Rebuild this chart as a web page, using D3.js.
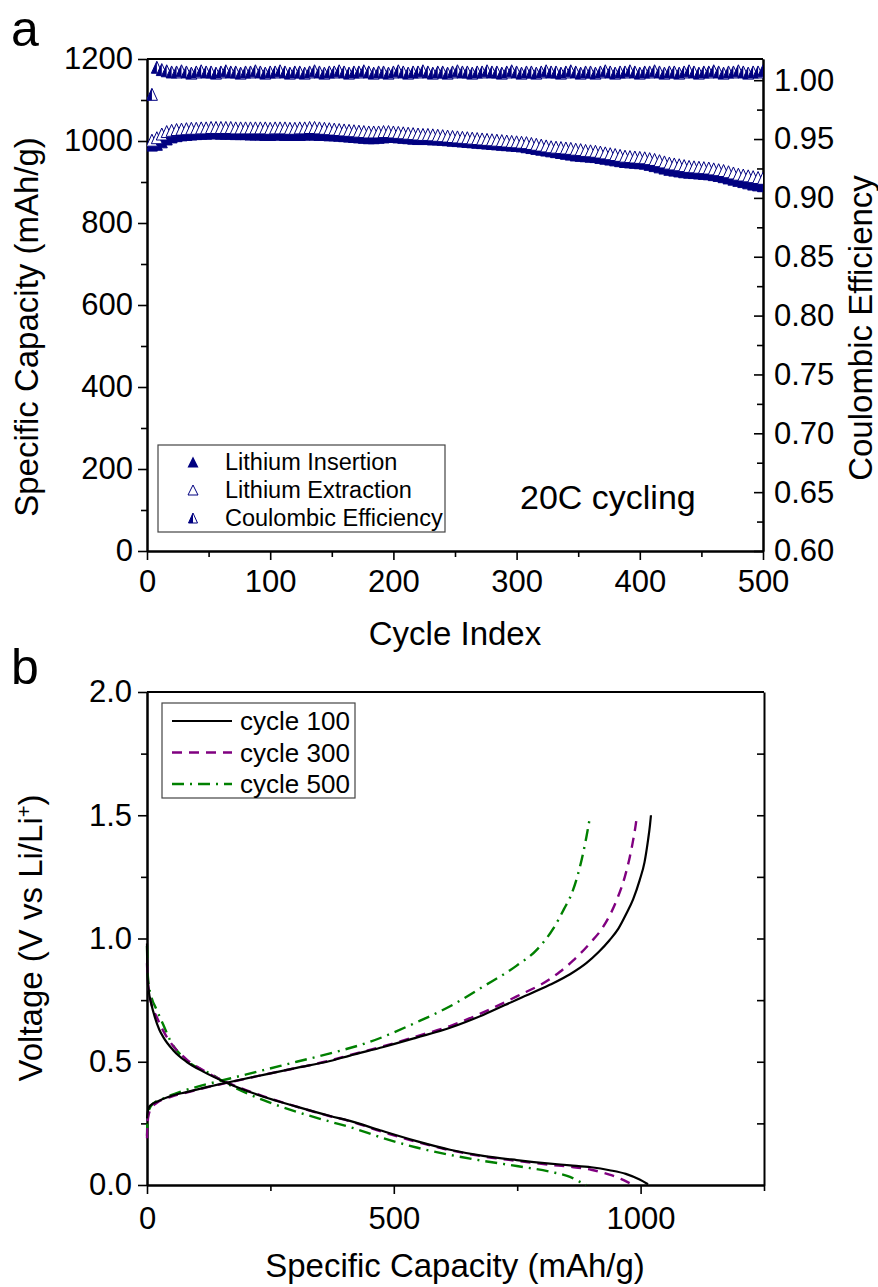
<!DOCTYPE html>
<html>
<head>
<meta charset="utf-8">
<script src="https://cdn.jsdelivr.net/npm/d3@7"></script>
<style>
  body { margin: 0; background: #fff; }
  svg { display: block; }
</style>
</head>
<body>
<svg id="fig" width="878" height="1287"></svg>
<script>
// ---------- Panel a: cycling at 20C ----------
const cycles = d3.range(4, 501, 4);            // cycle index of each plotted point
const insertion = [                             // mAh/g
  990, 992, 998, 1005, 1010, 1013, 1015, 1016, 1017, 1018,
  1019, 1019, 1020, 1020, 1019, 1019, 1019, 1018, 1018, 1018,
  1017, 1017, 1017, 1016, 1016, 1017, 1017, 1016, 1016, 1016,
  1016, 1017, 1017, 1017, 1016, 1016, 1015, 1015, 1014, 1013,
  1012, 1011, 1010, 1009, 1008, 1008, 1009, 1010, 1011, 1011,
  1010, 1009, 1008, 1007, 1006, 1006, 1006, 1005, 1005, 1004,
  1003, 1002, 1001, 1000, 999, 998, 997, 996, 995, 994,
  993, 992, 991, 990, 989, 988, 986, 984, 982, 980,
  978, 976, 974, 972, 970, 968, 966, 965, 964, 963,
  962, 960, 958, 956, 954, 952, 950, 949, 948, 947,
  946, 943, 940, 937, 934, 931, 929, 927, 925, 924,
  923, 922, 921, 920, 918, 916, 913, 910, 907, 904,
  901, 898, 895, 893, 891
];
const extraction = [                            // mAh/g
  1002, 1008, 1017, 1023, 1026, 1028, 1029, 1030, 1031, 1031,
  1032, 1032, 1033, 1033, 1033, 1033, 1033, 1032, 1032, 1032,
  1032, 1032, 1032, 1032, 1031, 1032, 1032, 1032, 1031, 1031,
  1032, 1032, 1033, 1033, 1032, 1031, 1030, 1029, 1028, 1027,
  1026, 1025, 1024, 1023, 1022, 1022, 1022, 1023, 1023, 1022,
  1021, 1020, 1019, 1018, 1017, 1016, 1016, 1015, 1014, 1013,
  1012, 1011, 1010, 1009, 1008, 1007, 1006, 1005, 1004, 1003,
  1002, 1001, 1000, 999, 998, 997, 996, 994, 992, 990,
  988, 986, 985, 984, 983, 982, 980, 979, 977, 976,
  975, 973, 971, 969, 967, 965, 963, 962, 961, 960,
  959, 957, 955, 952, 949, 946, 944, 942, 940, 938,
  937, 936, 935, 934, 932, 930, 928, 925, 922, 919,
  917, 915, 913, 911, 909
];
const efficiency = [
  0.988, 1.011, 1.009, 1.008, 1.007, 1.007, 1.008, 1.007, 1.006, 1.007,
  1.008, 1.007, 1.007, 1.006, 1.007, 1.008, 1.007, 1.007, 1.006, 1.007,
  1.007, 1.008, 1.007, 1.006, 1.007, 1.007, 1.008, 1.007, 1.006, 1.007,
  1.007, 1.006, 1.007, 1.008, 1.007, 1.006, 1.007, 1.007, 1.008, 1.007,
  1.006, 1.007, 1.007, 1.008, 1.007, 1.006, 1.007, 1.007, 1.006, 1.007,
  1.008, 1.007, 1.006, 1.007, 1.007, 1.008, 1.007, 1.006, 1.007, 1.007,
  1.006, 1.007, 1.008, 1.007, 1.007, 1.006, 1.007, 1.007, 1.008, 1.007,
  1.007, 1.006, 1.007, 1.008, 1.007, 1.006, 1.007, 1.007, 1.006, 1.007,
  1.008, 1.007, 1.007, 1.006, 1.007, 1.008, 1.007, 1.006, 1.007, 1.007,
  1.006, 1.007, 1.008, 1.007, 1.006, 1.007, 1.007, 1.008, 1.007, 1.006,
  1.007, 1.007, 1.008, 1.007, 1.006, 1.007, 1.007, 1.006, 1.007, 1.008,
  1.007, 1.006, 1.007, 1.007, 1.008, 1.007, 1.006, 1.007, 1.007, 1.008,
  1.007, 1.006, 1.007, 1.007, 1.008
];
const cycleTicks = [0, 100, 200, 300, 400, 500];
const capacityTicks = [0, 200, 400, 600, 800, 1000, 1200];
const efficiencyTicks = [0.60, 0.65, 0.70, 0.75, 0.80, 0.85, 0.90, 0.95, 1.00];
const legendA = ["Lithium Insertion", "Lithium Extraction", "Coulombic Efficiency"];

// ---------- Panel b: voltage profiles, [capacity mAh/g, voltage V] ----------
const c100Discharge = [[0,0.98],[0.5,0.9],[1.5,0.83],[4,0.78],[8,0.74],[16,0.68],[25,0.63],[33,0.6],[53,0.547],[80,0.5],[114,0.46],[161,0.415],[236,0.358],[303,0.318],[371,0.28],[411,0.26],[472,0.222],[546,0.178],[614,0.143],[681,0.118],[749,0.101],[816,0.087],[857,0.08],[900,0.072],[937,0.06],[970,0.045],[998,0.022],[1015,0.003]];
const c100Charge = [[0,0.27],[1,0.29],[3,0.31],[8,0.325],[20,0.338],[47,0.36],[80,0.377],[121,0.397],[161,0.415],[236,0.447],[303,0.475],[371,0.503],[411,0.525],[479,0.56],[546,0.598],[614,0.638],[681,0.69],[749,0.752],[816,0.812],[857,0.855],[890,0.9],[915,0.945],[937,0.993],[955,1.04],[971,1.1],[985,1.16],[998,1.236],[1008,1.31],[1015,1.398],[1019,1.46],[1021,1.5]];
const c300Discharge = [[0,0.9],[1,0.85],[3,0.8],[7,0.75],[13,0.71],[20,0.68],[33,0.625],[47,0.58],[80,0.51],[114,0.465],[161,0.417],[236,0.36],[303,0.318],[371,0.279],[411,0.259],[479,0.214],[546,0.175],[614,0.141],[681,0.116],[749,0.098],[816,0.082],[857,0.074],[900,0.062],[937,0.042],[960,0.025],[981,0.004]];
const c300Charge = [[0,0.19],[0.5,0.22],[1.5,0.26],[4,0.29],[10,0.315],[20,0.333],[47,0.357],[80,0.375],[121,0.396],[161,0.414],[236,0.447],[303,0.475],[371,0.505],[411,0.527],[479,0.563],[546,0.603],[614,0.645],[681,0.7],[749,0.765],[816,0.835],[836,0.864],[863,0.91],[897,0.98],[924,1.047],[954,1.168],[968,1.25],[978,1.33],[985,1.4],[990,1.46],[992,1.49]];
const c500Discharge = [[0,0.97],[1,0.88],[3,0.82],[8,0.77],[20,0.709],[33,0.65],[47,0.587],[80,0.506],[128,0.452],[168,0.405],[236,0.344],[303,0.297],[371,0.257],[411,0.235],[479,0.19],[546,0.152],[614,0.122],[681,0.098],[749,0.077],[816,0.054],[857,0.033],[875,0.015],[890,0.0]];
const c500Charge = [[0,0.2],[0.5,0.24],[1.5,0.28],[4,0.305],[13,0.331],[33,0.351],[67,0.378],[101,0.398],[168,0.432],[236,0.466],[303,0.5],[371,0.534],[452,0.581],[546,0.66],[614,0.725],[681,0.805],[749,0.89],[790,0.955],[823,1.04],[845,1.12],[860,1.18],[877,1.29],[890,1.41],[898,1.5]];
const capacityTicksB = [0, 500, 1000];
const voltageTicks = [0.0, 0.5, 1.0, 1.5, 2.0];
const legendB = ["cycle 100", "cycle 300", "cycle 500"];

// ---------- drawing ----------
const FONT = "'Liberation Sans', Arial, Helvetica, sans-serif";
const NAVY = "#000080";
const TICK_FS = 31, TITLE_FS = 33;
const svg = d3.select("#fig");

function styleAxis(g, fs) {
  g.attr("font-family", FONT);
  g.select(".domain").attr("stroke", "#000").attr("stroke-width", 2);
  g.selectAll(".tick line").attr("stroke", "#000").attr("stroke-width", 1.6);
  g.selectAll(".tick text").attr("font-family", FONT).attr("font-size", fs).attr("fill", "#000");
}
function minorValues(lo, hi, step) {
  const out = [];
  for (let v = lo; v <= hi + 1e-9; v += step) out.push(+v.toFixed(4));
  return out;
}

// ===== Panel a =====
const xA = d3.scaleLinear().domain([0, 500]).range([147, 763]);
const yA = d3.scaleLinear().domain([0, 1200]).range([551, 59]);
const yCE = d3.scaleLinear().domain([0.6, 1.018]).range([551, 59]);

const pa = svg.append("g");
pa.append("defs").append("clipPath").attr("id", "clipA")
  .append("rect").attr("x", 147).attr("y", 59).attr("width", 616).attr("height", 492);

// frame top line
pa.append("line").attr("x1", 147).attr("x2", 763).attr("y1", 59).attr("y2", 59)
  .attr("stroke", "#000").attr("stroke-width", 2);

// bottom axis
pa.append("g").attr("transform", "translate(0,551)")
  .call(d3.axisBottom(xA).tickValues(minorValues(50, 450, 100)).tickSize(6).tickFormat("").tickSizeOuter(0))
  .call(g => styleAxis(g, TICK_FS));
pa.append("g").attr("transform", "translate(0,551)")
  .call(d3.axisBottom(xA).tickValues(cycleTicks).tickSize(9).tickPadding(10).tickFormat(d3.format("d")).tickSizeOuter(0))
  .call(g => styleAxis(g, TICK_FS));
// left axis
pa.append("g").attr("transform", "translate(147,0)")
  .call(d3.axisLeft(yA).tickValues(minorValues(100, 1100, 200)).tickSize(6).tickFormat("").tickSizeOuter(0))
  .call(g => styleAxis(g, TICK_FS));
pa.append("g").attr("transform", "translate(147,0)")
  .call(d3.axisLeft(yA).tickValues(capacityTicks).tickSize(9).tickPadding(5).tickFormat(d3.format("d")).tickSizeOuter(0))
  .call(g => styleAxis(g, TICK_FS));
// right axis (inward ticks)
pa.append("g").attr("transform", "translate(763,0)")
  .call(d3.axisRight(yCE).tickValues(minorValues(0.625, 0.975, 0.05)).tickSize(-6).tickFormat("").tickSizeOuter(0))
  .call(g => styleAxis(g, TICK_FS));
pa.append("g").attr("transform", "translate(763,0)")
  .call(d3.axisRight(yCE).tickValues(efficiencyTicks).tickSize(-9).tickPadding(11).tickFormat(d3.format(".2f")).tickSizeOuter(0))
  .call(g => styleAxis(g, TICK_FS));

// triangle marker paths
function tri(w, h) { return `M0,${-h/2}L${w/2},${h/2}L${-w/2},${h/2}Z`; }
function triLeft(w, h) { return `M0,${-h/2}L0,${h/2}L${-w/2},${h/2}Z`; }
const TW = 11, TH = 12;

const marks = pa.append("g").attr("clip-path", "url(#clipA)");
marks.append("g").selectAll("path").data(cycles.map((c, i) => [c, insertion[i]])).join("path")
  .attr("transform", d => `translate(${xA(d[0])},${yA(d[1])})`)
  .attr("d", tri(TW, TH)).attr("fill", NAVY).attr("stroke", NAVY).attr("stroke-width", 1);
marks.append("g").selectAll("path").data(cycles.map((c, i) => [c, extraction[i]])).join("path")
  .attr("transform", d => `translate(${xA(d[0])},${yA(d[1])})`)
  .attr("d", tri(TW, TH)).attr("fill", "#fff").attr("stroke", NAVY).attr("stroke-width", 1);
const ceG = marks.append("g").selectAll("g").data(cycles.map((c, i) => [c, efficiency[i]])).join("g")
  .attr("transform", d => `translate(${xA(d[0])},${yCE(d[1])})`);
ceG.append("path").attr("d", tri(TW, TH)).attr("fill", "#fff").attr("stroke", NAVY).attr("stroke-width", 1);
ceG.append("path").attr("d", triLeft(TW, TH)).attr("fill", NAVY);

// legend a
const la = pa.append("g");
la.append("rect").attr("x", 158).attr("y", 445).attr("width", 287).attr("height", 87)
  .attr("fill", "#fff").attr("stroke", "#444").attr("stroke-width", 1.2);
legendA.forEach((t, i) => {
  const y = 462 + i * 28;
  const m = la.append("g").attr("transform", `translate(193,${y})`);
  if (i === 0) m.append("path").attr("d", tri(11, 11)).attr("fill", NAVY);
  if (i === 1) m.append("path").attr("d", tri(10, 10)).attr("fill", "#fff").attr("stroke", NAVY).attr("stroke-width", 1);
  if (i === 2) {
    m.append("path").attr("d", tri(9, 10)).attr("fill", "#fff").attr("stroke", NAVY).attr("stroke-width", 1);
    m.append("path").attr("d", triLeft(9, 10)).attr("fill", NAVY);
  }
  la.append("text").attr("x", 225).attr("y", y).attr("dy", "0.36em")
    .attr("font-family", FONT).attr("font-size", 23.5).text(t);
});

pa.append("text").attr("x", 520).attr("y", 509).attr("font-family", FONT).attr("font-size", 34).text("20C cycling");

// titles a
pa.append("text").attr("transform", "translate(38,327) rotate(-90)").attr("text-anchor", "middle")
  .attr("font-family", FONT).attr("font-size", TITLE_FS).text("Specific Capacity (mAh/g)");
pa.append("text").attr("transform", "translate(872,328) rotate(-90)").attr("text-anchor", "middle")
  .attr("font-family", FONT).attr("font-size", TITLE_FS).text("Coulombic Efficiency");
pa.append("text").attr("x", 455).attr("y", 645).attr("text-anchor", "middle")
  .attr("font-family", FONT).attr("font-size", TITLE_FS).text("Cycle Index");
svg.append("text").attr("x", 11).attr("y", 46).attr("font-family", FONT)
  .attr("font-size", 50).text("a");

// ===== Panel b =====
const xB = d3.scaleLinear().domain([0, 1250]).range([147, 764]);
const yB = d3.scaleLinear().domain([0, 2]).range([1185, 692]);
const pb = svg.append("g");

pb.append("line").attr("x1", 147).attr("x2", 764).attr("y1", 692).attr("y2", 692)
  .attr("stroke", "#000").attr("stroke-width", 2);

pb.append("g").attr("transform", "translate(0,1185)")
  .call(d3.axisBottom(xB).tickValues([250, 750, 1250]).tickSize(6).tickFormat("").tickSizeOuter(0))
  .call(g => styleAxis(g, TICK_FS));
pb.append("g").attr("transform", "translate(0,1185)")
  .call(d3.axisBottom(xB).tickValues(capacityTicksB).tickSize(9).tickPadding(13).tickFormat(d3.format("d")).tickSizeOuter(0))
  .call(g => styleAxis(g, TICK_FS));
pb.append("g").attr("transform", "translate(147,0)")
  .call(d3.axisLeft(yB).tickValues([0.25, 0.75, 1.25, 1.75]).tickSize(6).tickFormat("").tickSizeOuter(0))
  .call(g => styleAxis(g, TICK_FS));
pb.append("g").attr("transform", "translate(147,0)")
  .call(d3.axisLeft(yB).tickValues(voltageTicks).tickSize(9).tickPadding(6).tickFormat(d3.format(".1f")).tickSizeOuter(0))
  .call(g => styleAxis(g, TICK_FS));
pb.append("g").attr("transform", "translate(764,0)")
  .call(d3.axisRight(yB).tickValues([0.25, 0.5, 0.75, 1.0, 1.25, 1.5, 1.75]).tickSize(-7).tickFormat("").tickSizeOuter(0))
  .call(g => styleAxis(g, TICK_FS));

const line = d3.line().x(d => xB(d[0])).y(d => yB(d[1])).curve(d3.curveMonotoneX);
const styles = [
  { color: "#000000", dash: null, w: 2.2 },
  { color: "#800080", dash: "10,7", w: 2.4 },
  { color: "#008000", dash: "12,6,2,6", w: 2.4 }
];
const curves = [[c100Discharge, c100Charge], [c300Discharge, c300Charge], [c500Discharge, c500Charge]];
// cycle 500 first, cycle 100 last
[2, 1, 0].forEach(k => {
  curves[k].forEach(data => {
    pb.append("path").datum(data).attr("d", line).attr("fill", "none")
      .attr("stroke", styles[k].color).attr("stroke-width", styles[k].w)
      .attr("stroke-dasharray", styles[k].dash);
  });
});

// legend b
const lb = pb.append("g");
lb.append("rect").attr("x", 162).attr("y", 703).attr("width", 193).attr("height", 95)
  .attr("fill", "#fff").attr("stroke", "#444").attr("stroke-width", 1.2);
legendB.forEach((t, i) => {
  const y = 721 + i * 31.5;
  lb.append("line").attr("x1", 172).attr("x2", 232).attr("y1", y).attr("y2", y)
    .attr("stroke", styles[i].color).attr("stroke-width", styles[i].w)
    .attr("stroke-dasharray", styles[i].dash);
  lb.append("text").attr("x", 240).attr("y", y).attr("dy", "0.36em")
    .attr("font-family", FONT).attr("font-size", 26).text(t);
});

// titles b
pb.append("text").attr("x", 455).attr("y", 1277).attr("text-anchor", "middle")
  .attr("font-family", FONT).attr("font-size", TITLE_FS).text("Specific Capacity (mAh/g)");
const vt = pb.append("text").attr("transform", "translate(42,938) rotate(-90)").attr("text-anchor", "middle")
  .attr("font-family", FONT).attr("font-size", TITLE_FS);
vt.append("tspan").text("Voltage (V vs Li/Li");
vt.append("tspan").attr("baseline-shift", "super").attr("font-size", 20).text("+");
vt.append("tspan").text(")");
svg.append("text").attr("x", 11).attr("y", 684).attr("font-family", FONT)
  .attr("font-size", 50).text("b");
</script>
</body>
</html>
